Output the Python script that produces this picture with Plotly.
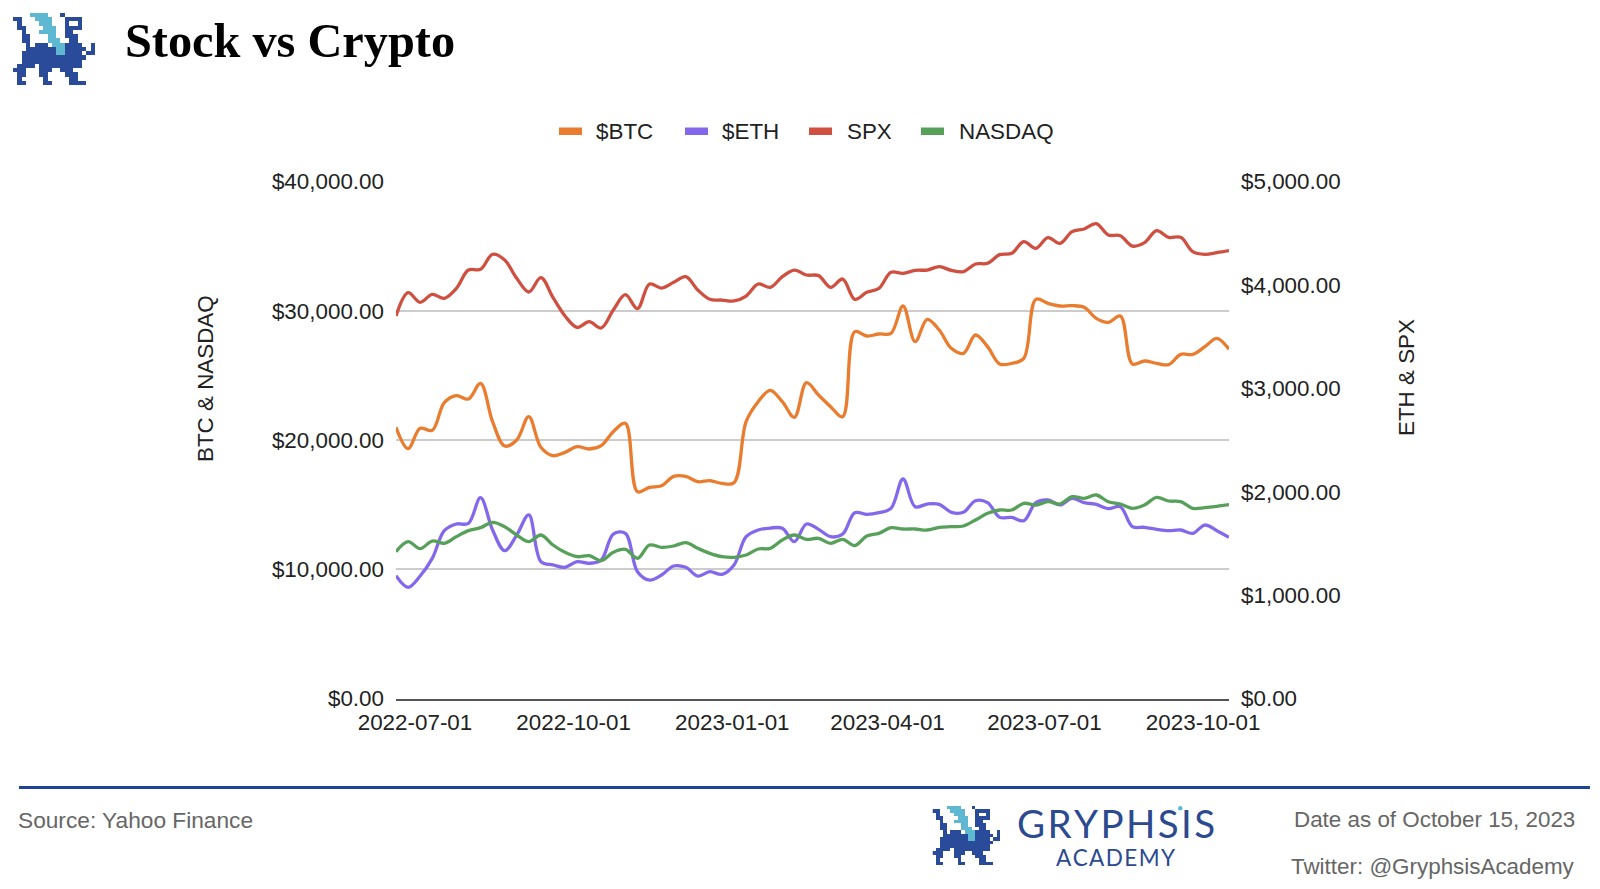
"""Stock vs Crypto: weekly BTC, ETH, SPX and NASDAQ on two dollar axes."""
import pandas as pd
import plotly.graph_objects as go

WIDTH = 1600
HEIGHT = 889

# weekly closes
dates = pd.date_range('2022-06-20', periods=70, freq='7D')

btc = [20979, 19330, 20902, 20747, 22887, 23429, 23171, 24382, 21418, 19536,
       20000, 21804, 19433, 18788, 19046, 19484, 19304, 19562, 20644, 21289,
       16004, 16339, 16468, 17190, 17190, 16777, 16855, 16648, 16700, 21418,
       22964, 23841, 22964, 21753, 24434, 23480, 22578, 21804, 28378, 28043,
       28198, 28249, 30363, 27605, 29332, 28507, 27089, 26703, 28120, 27218,
       25878, 25929, 26316, 30879, 30570, 30363, 30389, 30260, 29409, 29100,
       29590, 25878, 26110, 25929, 25826, 26625, 26625, 27218, 27863, 27012]
eth = [1188, 1076, 1185, 1356, 1623, 1688, 1694, 1942, 1630, 1430,
       1581, 1775, 1324, 1292, 1269, 1324, 1308, 1340, 1591, 1598,
       1227, 1146, 1195, 1282, 1269, 1185, 1227, 1201, 1292, 1565,
       1630, 1649, 1646, 1517, 1688, 1636, 1565, 1591, 1797, 1781,
       1797, 1839, 2123, 1855, 1881, 1878, 1801, 1801, 1913, 1894,
       1752, 1752, 1720, 1894, 1920, 1872, 1936, 1894, 1878, 1836,
       1855, 1662, 1656, 1636, 1623, 1630, 1598, 1678, 1623, 1559]
spx = [3699, 3924, 3831, 3908, 3870, 3966, 4143, 4150, 4295, 4240,
       4063, 3931, 4069, 3879, 3699, 3589, 3644, 3583, 3757, 3905,
       3770, 4008, 3969, 4024, 4079, 3950, 3860, 3853, 3844, 3892,
       4008, 3976, 4079, 4143, 4095, 4089, 3976, 4056, 3860, 3928,
       3966, 4121, 4111, 4140, 4143, 4176, 4140, 4127, 4201, 4208,
       4292, 4305, 4417, 4353, 4456, 4401, 4514, 4540, 4591, 4482,
       4475, 4375, 4408, 4524, 4459, 4459, 4321, 4295, 4311, 4330]
nasdaq = [11364, 12137, 11596, 12188, 12008, 12524, 12988, 13220, 13632, 13297,
          12652, 12137, 12652, 11879, 11312, 10977, 11054, 10667, 11312, 11544,
          10848, 11879, 11699, 11802, 12060, 11621, 11235, 10977, 10925, 11106,
          11570, 11621, 12266, 12652, 12317, 12395, 12008, 12317, 11828, 12575,
          12781, 13220, 13117, 13117, 13039, 13245, 13297, 13349, 13813, 14328,
          14586, 14586, 15102, 14973, 15230, 15050, 15617, 15488, 15746, 15230,
          15050, 14715, 14973, 15566, 15282, 15230, 14715, 14766, 14870, 14998]

series_names = ['$BTC', '$ETH', 'SPX', 'NASDAQ']
series_colors = ['#E97C2E', '#8468EC', '#CF4F40', '#57A05A']

x_ticks = ['2022-07-01', '2022-10-01', '2023-01-01', '2023-04-01', '2023-07-01', '2023-10-01']
left_ticks = [0, 10000, 20000, 30000, 40000]
right_ticks = [0, 1000, 2000, 3000, 4000, 5000]

# griffin logo, D dark blue, L light blue
logo_rows = [
    '....LLLL...D.......',
    'DD...LLLL...DDDD...',
    '.D....LLL...D..D...',
    '.DD....LLL..DDDD...',
    '..D...LLLL..DD.....',
    '..DD....LL..DDD....',
    '..DD....LLL..DD....',
    '...D.DDD.LLLDDDD..D',
    '...DDDDDDDLLDDDDD.D',
    '..DDDDDDDDLLDDDD.DD',
    '..DDDDDDDDDDDDDDD..',
    '..DDDDDDDDDDDDDD...',
    '.DDDD.DDDDDDDDDD...',
    'DDD...DDD..DDD.....',
    '.DD...DD....DDD....',
    '.D.....D.....DD....',
    '.DD....DD....DDDD..',
]
LOGO_DARK = '#2A4A9A'
LOGO_LIGHT = '#5FB8D2'

FONT = 'Liberation Sans'
TEXT = '#222222'
GREY = '#666666'
SIZE = 22.4


def x_paper(px):
    return px / WIDTH


def y_paper(px):
    return 1 - px / HEIGHT


def add_text(fig, text, x, y, size=SIZE, color=TEXT, xanchor='left', angle=0, family=FONT):
    fig.add_annotation(text=text, x=x_paper(x), y=y_paper(y), xref='paper', yref='paper',
                       xanchor=xanchor, yanchor='middle', showarrow=False, textangle=angle,
                       font=dict(family=family, size=size, color=color))


def add_logo(fig, x_name, y_name, left, right, top, bottom):
    codes = {'D': 1, 'L': 2, '.': None}
    z = [[codes[c] for c in row] for row in logo_rows]
    fig.add_trace(go.Heatmap(z=z, xaxis=x_name, yaxis=y_name, zmin=1, zmax=2, showscale=False,
                             colorscale=[[0, LOGO_DARK], [0.5, LOGO_DARK],
                                         [0.5, LOGO_LIGHT], [1, LOGO_LIGHT]],
                             hoverinfo='skip'))
    x_key = 'xaxis' + x_name[1:]
    y_key = 'yaxis' + y_name[1:]
    fig.update_layout({
        x_key: dict(domain=[x_paper(left), x_paper(right)], anchor=y_name, visible=False,
                    range=[-0.5, len(logo_rows[0]) - 0.5], fixedrange=True),
        y_key: dict(domain=[y_paper(bottom), y_paper(top)], anchor=x_name, visible=False,
                    range=[len(logo_rows) - 0.5, -0.5], fixedrange=True),
    })


fig = go.Figure()

# SPX and ETH go on the base axis so NASDAQ ends up drawn over ETH
for name, values, color, axis in [
    (series_names[1], eth, series_colors[1], 'y2'),
    (series_names[2], spx, series_colors[2], 'y2'),
    (series_names[0], btc, series_colors[0], 'y'),
    (series_names[3], nasdaq, series_colors[3], 'y'),
]:
    fig.add_trace(go.Scatter(x=dates, y=values, name=name, mode='lines', yaxis=axis,
                             line=dict(color=color, width=3.3, shape='spline', smoothing=1),
                             showlegend=False))

add_logo(fig, 'x2', 'y3', 13, 95, 13, 85)
add_logo(fig, 'x3', 'y4', 932.5, 1000, 806, 865)

fig.update_layout(
    width=WIDTH,
    height=HEIGHT,
    margin=dict(l=0, r=0, t=0, b=0, autoexpand=False),
    paper_bgcolor='white',
    plot_bgcolor='white',
    showlegend=False,
    font=dict(family=FONT, size=SIZE, color=TEXT),
    title=dict(text='<b>Stock vs Crypto</b>', x=x_paper(125), xanchor='left', xref='paper',
               y=y_paper(40), yanchor='middle', yref='paper',
               font=dict(family='Liberation Serif', size=48.3, color='#000000')),
    xaxis=dict(domain=[x_paper(396), x_paper(1229)], anchor='y',
               range=[dates[0], dates[-1]], tickvals=x_ticks, tickformat='%Y-%m-%d',
               showgrid=False, showline=True, linecolor='#555555', linewidth=1.6,
               ticks='', ticklabelstandoff=3, tickfont=dict(size=SIZE, color=TEXT)),
    yaxis=dict(domain=[y_paper(698.6), y_paper(181.4)], anchor='x', overlaying='y2', side='left',
               range=[0, 40000], tickvals=left_ticks, tickformat='$,.2f',
               showgrid=True, gridcolor='#CCCCCC', gridwidth=1.6, zeroline=False,
               ticks='', ticklabelstandoff=11, tickfont=dict(size=SIZE, color=TEXT)),
    yaxis2=dict(domain=[y_paper(698.6), y_paper(181.4)], anchor='x', side='right',
                range=[0, 5000], tickvals=right_ticks, tickformat='$,.2f',
                showgrid=False, zeroline=False,
                ticks='', ticklabelstandoff=11, tickfont=dict(size=SIZE, color=TEXT)),
)

# legend row, same order as the source chart
legend_swatches = [559, 685, 809, 921]
legend_labels = [594, 719.5, 844.5, 957.5]
for name, color, swatch_x, label_x in zip(series_names, series_colors, legend_swatches, legend_labels):
    fig.add_shape(type='rect', xref='paper', yref='paper', line_width=0, fillcolor=color,
                  x0=x_paper(swatch_x), x1=x_paper(swatch_x + 23), y0=y_paper(135), y1=y_paper(127.5))
    add_text(fig, name, label_x, 131)

# axis titles
add_text(fig, 'BTC &amp; NASDAQ', 205, 378, xanchor='center', angle=-90)
add_text(fig, 'ETH &amp; SPX', 1406, 378, xanchor='center', angle=-90)

# footer
fig.add_shape(type='line', xref='paper', yref='paper', line=dict(color='#1F4494', width=3),
              x0=x_paper(19), x1=x_paper(1590), y0=y_paper(787.5), y1=y_paper(787.5))
add_text(fig, 'Source: Yahoo Finance', 16, 819.5, size=22.7, color=GREY)
add_text(fig, 'Date as of October 15, 2023', 1577, 819.5, size=22.4, color=GREY, xanchor='right')
add_text(fig, 'Twitter: @GryphsisAcademy', 1577, 866, size=22.4, color=GREY, xanchor='right')
add_text(fig, '\u200a'.join('GRYPHSIS'), 1115.5, 823, size=38.5, color='#2B4A90', xanchor='center', family='Lato')
add_text(fig, '\u200a'.join('ACADEMY'), 1116, 857.5, size=22.5, color='#2B4A90', xanchor='center', family='Lato')
fig.add_shape(type='circle', xref='paper', yref='paper', line_width=0, fillcolor=LOGO_LIGHT,
              x0=x_paper(1178), x1=x_paper(1182.5), y0=y_paper(810.5), y1=y_paper(806))

fig.write_html('out.html', post_script="document.body.style.margin='0';",
               config={'displayModeBar': False})
